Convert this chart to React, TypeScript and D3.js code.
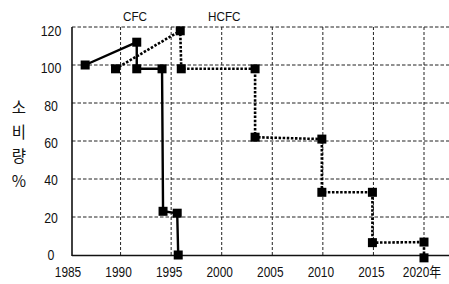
import React from "react";
import * as d3 from "d3";

const xTicks = [1985, 1990, 1995, 2000, 2005, 2010, 2015, 2020];
const xTickLabels = ["1985", "1990", "1995", "2000", "2005", "2010", "2015", "2020年"];
const yTicks = [0, 20, 40, 60, 80, 100, 120];
const cfcYears = [1986.5, 1991.6, 1991.6, 1994.1, 1994.2, 1995.6, 1995.7];
const cfcValues = [100, 112, 98, 98, 23, 22, 0];
const hcfcYears = [1989.5, 1995.9, 1996.0, 2003.3, 2003.3, 2009.9, 2009.9, 2014.9, 2014.9, 2020, 2020];
const hcfcValues = [98, 118, 98, 98, 62, 61, 33, 33, 6.5, 6.8, -1.5];
const seriesNames = ["CFC", "HCFC"];
const yTitle = ["소", "비", "량", "%"];

const W = 449;
const H = 284;

export default function App() {
  const x = d3.scaleLinear().domain([1985, 2020]).range([70, 424]);
  const y = d3.scaleLinear().domain([0, 120]).range([255, 27]);
  const yLab = d3.scaleLinear().domain([0, 120]).range([255, 31]);
  const left = 72;
  const right = 449;
  const line = d3
    .line<[number, number]>()
    .x((d) => x(d[0]))
    .y((d) => y(d[1]));
  const cfc: [number, number][] = cfcYears.map((t, i) => [t, cfcValues[i]]);
  const hcfc: [number, number][] = hcfcYears.map((t, i) => [t, hcfcValues[i]]);
  const num = { fontFamily: "Liberation Sans, Arial, sans-serif", fontSize: 14, fill: "#111" };
  const ms = 9;
  return (
    <div style={{ position: "absolute", left: 0, top: 0 }}>
      <svg width={W} height={H} style={{ display: "block", background: "#fff" }}>
        {yTicks.filter((v) => v > 0).map((v) => (
          <line key={"h" + v} x1={left} x2={right} y1={y(v)} y2={y(v)} stroke="#222" strokeWidth={1} strokeDasharray="3.5,2" />
        ))}
        {xTicks.filter((t) => t > 1985).map((t) => (
          <line key={"v" + t} x1={x(t)} x2={x(t)} y1={y(120)} y2={y(0)} stroke="#222" strokeWidth={1} strokeDasharray="3,2" />
        ))}
        <line x1={left} x2={left} y1={y(120)} y2={y(0) + 1} stroke="#111" strokeWidth={1.6} />
        <line x1={left} x2={right} y1={y(0) + 0.5} y2={y(0) + 0.5} stroke="#111" strokeWidth={1.6} />
        {yTicks.map((v) => (
          <g key={"yl" + v} transform={`translate(51,${yLab(v) + 5}) scale(0.88,1)`}>
            <text textAnchor="middle" {...num}>{v}</text>
          </g>
        ))}
        {xTicks.map((t, i) => (
          <g key={"xl" + t} transform={`translate(${x(t) - 2},${277}) scale(0.85,1)`}>
            <text textAnchor="middle" {...num} fontFamily={"Liberation Sans, 'Noto Sans CJK KR', sans-serif"}>{xTickLabels[i]}</text>
          </g>
        ))}
        {yTitle.map((c, i) => (
          <text key={"yt" + i} x={19} y={113 + i * 24.7} textAnchor="middle" fontFamily="'Noto Sans CJK KR', sans-serif" fontSize={15.5} fill="#111">{c}</text>
        ))}
        <g transform="translate(135,21) scale(0.9,1)">
          <text textAnchor="middle" {...num} fontSize={13}>{seriesNames[0]}</text>
        </g>
        <g transform="translate(208,21) scale(0.9,1)">
          <text textAnchor="start" {...num} fontSize={13}>{seriesNames[1]}</text>
        </g>
        <path d={line(hcfc) || ""} fill="none" stroke="#000" strokeWidth={2.6} strokeDasharray="2.5,1.6" />
        <path d={line(cfc) || ""} fill="none" stroke="#000" strokeWidth={2.4} />
        {hcfc.map((d, i) => (
          <rect key={"hm" + i} x={x(d[0]) - ms / 2} y={y(d[1]) - ms / 2} width={ms} height={ms} fill="#000" />
        ))}
        {cfc.map((d, i) => (
          <rect key={"cm" + i} x={x(d[0]) - ms / 2} y={y(d[1]) - ms / 2} width={ms} height={ms} fill="#000" />
        ))}
      </svg>
    </div>
  );
}
